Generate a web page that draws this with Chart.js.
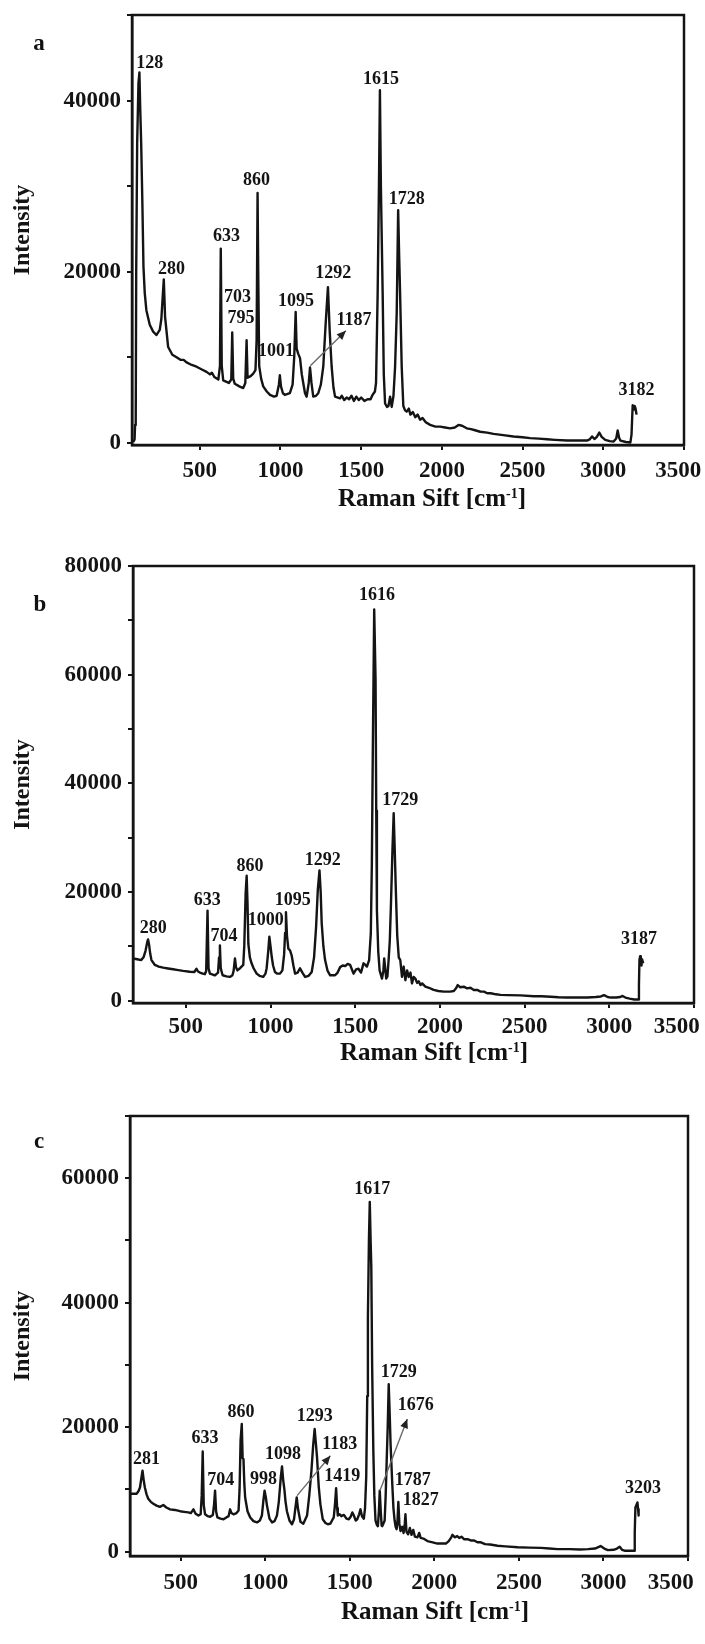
<!DOCTYPE html>
<html><head><meta charset="utf-8">
<script src="https://cdn.jsdelivr.net/npm/chart.js@4.4.1/dist/chart.umd.min.js"></script>
<style>
html,body{margin:0;padding:0;background:#fff;}
body{width:705px;height:1644px;position:relative;overflow:hidden;font-family:"Liberation Serif","Times New Roman",serif;}
canvas{position:absolute;left:0;}
.lbl{position:absolute;font-weight:bold;color:#111;white-space:nowrap;transform:translate(-50%,-50%);line-height:1;}
.xt{font-size:25px;}
.xt sup{font-size:14px;vertical-align:0;position:relative;top:-0.55em;}
.pl{font-size:23px;}
</style></head><body>
<canvas id="ca" width="705" height="530" style="top:0px;width:705px;height:530px"></canvas>
<canvas id="cb" width="705" height="530" style="top:530px;width:705px;height:530px"></canvas>
<canvas id="cc" width="705" height="584" style="top:1060px;width:705px;height:584px"></canvas>
<div class="lbl pl" style="left:39px;top:42px">a</div>
<div class="lbl pl" style="left:40px;top:603px">b</div>
<div class="lbl pl" style="left:39px;top:1140px">c</div>
<div class="lbl xt" style="left:432px;top:497px">Raman Sift [cm<sup>-1</sup>]</div>
<div class="lbl xt" style="left:434px;top:1051px">Raman Sift [cm<sup>-1</sup>]</div>
<div class="lbl xt" style="left:435px;top:1610px">Raman Sift [cm<sup>-1</sup>]</div>
<script>
// ---------- Panel a ----------
const shiftA = [
 88,96,99,103,106,112,120,126,131,137,
 144,151,159,169,190,211,231,252,262,269,
 277,285,304,330,356,380,400,418,450,480,
 510,542,563,575,590,615,625,630,636,645,
 680,695,701,707,717,745,769,782,790,796,
 815,831,845,852,858,862,868,880,893,915,
 935,960,976,990,996,1003,1015,1027,1058,1075,
 1085,1094,1100,1110,1121,1132,1141,1152,1162,1175,
 1183,1192,1203,1220,1234,1250,1265,1280,1294,1305,
 1317,1328,1338,1369,1380,1395,1410,1425,1440,1455,
 1470,1485,1500,1520,1540,1558,1570,1585,1592,1602,
 1610,1616,1622,1633,1640,1648,1660,1669,1679,1689,
 1700,1710,1720,1729,1735,1741,1751,1761,1772,1782,
 1795,1805,1820,1835,1850,1865,1880,1900,1927,1960,
 1989,2020,2051,2080,2103,2125,2154,2180,2200,2237,
 2280,2320,2380,2444,2500,2547,2600,2651,2700,2775,
 2850,2899,2915,2930,2945,2960,2975,2990,3012,3040,
 3064,3080,3089,3098,3106,3140,3168,3175,3182,3190,
 3195,3200,3206];
const intensityA = [
 100,400,2100,2500,20000,35000,42000,43300,39000,34900,
 28300,20600,17500,15500,13800,13000,12600,13200,14500,16700,
 19100,14700,11200,10300,10000,9700,9700,9400,9100,8900,
 8600,8300,8000,8200,7700,7400,9000,22700,9000,7300,
 7000,7400,12900,7500,6900,6600,6400,7000,12000,7600,
 7800,8100,8500,12000,29200,20000,9000,7500,6600,6000,
 5600,5400,5500,6800,7900,6600,5800,5600,5800,6800,
 10000,15300,11000,10400,9900,8000,7000,5800,5400,7000,
 8800,7000,5400,5500,5800,6800,8900,14000,18200,13000,
 8900,6500,5400,5200,5500,5000,5300,5100,5500,4900,
 5400,5000,5300,4900,5100,5100,5600,6000,7000,17500,
 30000,41200,30000,17500,8000,4600,4200,4300,5400,4200,
 5500,8900,15100,27200,22000,17500,8900,4300,3800,3650,
 4000,3300,3600,3000,3300,2700,2900,2400,2100,1900,
 1900,1800,1700,1800,2100,2000,1700,1600,1500,1300,
 1200,1050,900,750,650,550,500,420,350,270,
 270,270,400,750,450,700,1200,700,350,200,
 150,500,1450,600,270,100,50,1000,4400,3900,
 4300,4000,3300];
const peakTextA = ['128','280','633','703','795','860','1001','1095','1187','1292','1615','1728','3182'];
const peakLabelXA = [190,324,666,734,755,852,972,1096,1455,1327,1623,1782,3205];
const peakLabelYA = [44350,20250,24130,17060,14530,30660,10720,16590,14340,19860,42440,28450,6100];
const arrowsA = [[1185,9000,1405,13100]];

// ---------- Panel b ----------
const shiftB = [
 188,205,220,237,250,262,272,277,283,290,
 297,317,340,366,395,425,455,484,523,550,
 563,572,583,600,612,620,628,634,642,660,
 672,690,696,701,706,717,740,760,775,782,
 790,796,804,820,839,845,853,859,864,869,
 878,888,900,918,935,957,970,977,986,993,
 1000,1007,1015,1026,1040,1056,1070,1080,1086,1091,
 1097,1105,1115,1125,1135,1145,1160,1174,1188,1204,
 1225,1243,1257,1269,1279,1289,1296,1302,1312,1322,
 1337,1352,1381,1396,1411,1426,1441,1455,1470,1480,
 1490,1505,1519,1534,1549,1560,1569,1582,1592,1598,
 1604,1612,1620,1624,1628,1636,1644,1658,1666,1671,
 1677,1683,1690,1697,1704,1711,1720,1727,1733,1740,
 1748,1757,1766,1776,1786,1796,1806,1816,1826,1835,
 1845,1855,1865,1875,1885,1895,1914,1935,1963,1990,
 2023,2060,2082,2095,2105,2120,2141,2160,2180,2200,
 2220,2240,2260,2279,2300,2330,2358,2400,2476,2555,
 2600,2654,2700,2752,2800,2871,2920,2950,2969,2990,
 3009,3040,3065,3078,3095,3120,3147,3170,3175,3178,
 3182,3186,3190,3194,3200];
const intensityB = [
 7800,7700,7600,7500,8000,9200,10800,11300,10300,8600,
 7500,6600,6300,6100,5950,5800,5650,5500,5350,5300,
 5900,5400,5200,5000,4900,5500,16600,6000,5000,4800,
 4700,5200,8000,10200,6000,4700,4500,4400,4700,5500,
 7800,6200,5600,6000,6600,10200,19800,23000,18000,10500,
 8000,6900,6000,5000,4600,4400,5000,6000,9000,11800,
 10000,8100,6500,5300,5000,5000,5600,8500,12500,16300,
 12000,9600,9300,8300,6500,5000,5200,6000,5200,4400,
 4600,5300,8000,13600,20400,24000,20000,14300,10000,7500,
 5500,4700,4700,5200,6200,6500,6400,6800,6600,5800,
 5000,5800,5900,5200,6900,6600,6300,7500,12400,25000,
 46800,72000,59100,35000,16700,9000,5600,4100,5500,7800,
 6000,4100,4500,7500,11000,17900,28000,34500,28000,20000,
 12000,8000,7500,4400,6300,3800,5600,4400,5200,3200,
 4400,4100,3300,3600,2900,3200,2600,2400,2000,1800,
 1700,1700,1800,2300,2900,2500,2600,2300,2400,2000,
 2000,1700,1700,1400,1400,1200,1100,1050,1000,850,
 850,750,650,600,600,600,700,800,1050,700,
 600,600,700,900,600,400,250,250,3000,7500,
 8200,8100,6500,7600,6900];
const peakTextB = ['280','633','704','860','1000','1095','1292','1616','1729','3187'];
const peakLabelXB = [307,626,725,878,971,1131,1308,1628,1766,3176];
const peakLabelYB = [13330,18430,11790,24820,14740,18550,25800,74580,36860,11300];
const arrowsB = [];

// ---------- Panel c ----------
const shiftC = [
 200,220,239,250,259,267,274,281,288,298,
 308,323,338,357,377,397,415,437,465,496,
 520,545,560,575,588,605,618,624,630,636,
 644,660,674,690,697,703,709,717,735,753,
 770,783,792,800,812,830,842,848,854,861,
 866,871,876,881,895,911,930,951,968,980,
 990,996,1003,1010,1025,1040,1055,1069,1080,1092,
 1099,1106,1113,1120,1128,1143,1158,1170,1178,1186,
 1194,1208,1225,1247,1260,1273,1283,1292,1299,1306,
 1316,1326,1340,1356,1370,1385,1395,1405,1412,1419,
 1425,1429,1440,1450,1465,1480,1494,1505,1515,1524,
 1535,1544,1555,1563,1572,1583,1590,1597,1603,1607,
 1613,1618,1623,1627,1632,1639,1645,1652,1660,1666,
 1672,1677,1683,1688,1692,1700,1706,1712,1718,1724,
 1730,1736,1741,1751,1758,1765,1771,1777,1782,1787,
 1793,1800,1810,1818,1825,1829,1835,1845,1855,1865,
 1875,1885,1900,1910,1919,1935,1959,1990,2018,2050,
 2068,2085,2100,2107,2120,2135,2147,2160,2175,2196,
 2215,2235,2255,2275,2300,2330,2374,2420,2493,2560,
 2631,2680,2730,2800,2860,2908,2950,2983,3005,3026,
 3060,3080,3096,3110,3125,3160,3181,3185,3189,3195,
 3201,3205,3208];
const intensityC = [
 9300,9300,9300,9700,10300,11800,13000,11500,10300,9200,
 8500,8000,7700,7400,7200,7500,7100,6800,6700,6500,
 6400,6300,6200,6800,6100,5800,6000,9000,16100,7500,
 6000,5700,5600,5900,7500,9800,6500,5500,5300,5200,
 5500,5700,6800,6200,6000,6200,6600,10000,17900,20500,
 15000,14900,11000,8700,6500,5500,4900,4700,5000,5800,
 8500,9800,8800,7400,5300,4700,4900,5800,8000,12000,
 13700,11500,10000,8000,6500,5000,4400,5200,7000,8700,
 6800,4800,4500,5800,9000,13000,17000,19700,17500,15200,
 10500,7600,5200,4600,4400,4500,5000,5500,7500,10200,
 7000,5800,6000,5700,5900,5300,5200,5600,6300,5800,
 5000,5200,6000,6800,5700,5300,7000,12000,25000,37800,
 50000,56200,50000,45800,30000,16300,9000,5000,4300,4100,
 6500,9800,6500,4200,4100,4600,5000,9000,14600,20000,
 26900,22000,17300,10900,7000,5000,4000,3600,5000,8000,
 4500,3300,4000,3000,4500,6000,3200,2800,3800,2700,
 3500,2400,2300,3000,2200,2100,1700,1500,1300,1300,
 1300,1700,2300,2700,2300,2500,2200,2400,2000,2000,
 1800,1800,1500,1500,1200,1150,950,850,700,650,
 600,500,400,400,350,400,500,900,500,250,
 300,500,800,300,150,150,150,3000,7100,7500,
 7900,6800,5800];
const peakTextC = ['281','633','704','860','998','1098','1293','1183','1419','1617','1729','1676','1787','1827','3203'];
const peakLabelXC = [298,644,737,856,990,1105,1293,1441,1455,1633,1789,1890,1872,1919,3234];
const peakLabelYC = [14900,18130,11410,22430,11680,15710,21730,17220,12060,58180,28880,23510,11410,8290,10180];
const arrowsC = [[1188,9000,1385,15400],[1678,9800,1840,21300]];

// ---------- axes ----------
const xTickValues = [500,1000,1500,2000,2500,3000,3500];
const yTicksA = [0,10000,20000,30000,40000,50000];
const yTicksB = [0,10000,20000,30000,40000,50000,60000,70000,80000];
const yTicksC = [0,10000,20000,30000,40000,50000,60000,70000];

const FONT = '"Liberation Serif","Times New Roman",serif';
const INK = '#141414';

const framePlugin = {
  id: 'frame',
  afterDraw(chart) {
    const {ctx, chartArea: a} = chart;
    ctx.save();
    ctx.strokeStyle = INK; ctx.lineWidth = 2.5;
    ctx.strokeRect(a.left, a.top, a.right - a.left, a.bottom - a.top);
    ctx.restore();
  }
};

function annotPlugin(texts, lx, ly, arrows) {
  return {
    id: 'annot',
    afterDatasetsDraw(chart) {
      const {ctx} = chart; const xs = chart.scales.x, ys = chart.scales.y;
      ctx.save();
      arrows.forEach(a => {
        const x0 = xs.getPixelForValue(a[0]), y0 = ys.getPixelForValue(a[1]);
        const x1 = xs.getPixelForValue(a[2]), y1 = ys.getPixelForValue(a[3]);
        ctx.strokeStyle = '#6a6a6a'; ctx.lineWidth = 1.4;
        ctx.beginPath(); ctx.moveTo(x0, y0); ctx.lineTo(x1, y1); ctx.stroke();
        const ang = Math.atan2(y1 - y0, x1 - x0), L = 9, W = 4;
        ctx.fillStyle = '#222';
        ctx.beginPath();
        ctx.moveTo(x1, y1);
        ctx.lineTo(x1 - L*Math.cos(ang) + W*Math.sin(ang), y1 - L*Math.sin(ang) - W*Math.cos(ang));
        ctx.lineTo(x1 - L*Math.cos(ang) - W*Math.sin(ang), y1 - L*Math.sin(ang) + W*Math.cos(ang));
        ctx.closePath(); ctx.fill();
      });
      ctx.font = 'bold 18px ' + FONT;
      ctx.fillStyle = INK; ctx.textAlign = 'center'; ctx.textBaseline = 'middle';
      texts.forEach((t, i) => ctx.fillText(t, xs.getPixelForValue(lx[i]), ys.getPixelForValue(ly[i])));
      ctx.restore();
    }
  };
}

function makeChart(id, c) {
  const pts = c.xs.map((v, i) => ({x: v, y: c.ys[i]}));
  const gridOpts = {display: true, drawOnChartArea: false, drawTicks: true, tickLength: 5, color: INK, lineWidth: 2};
  const borderOpts = {display: true, color: INK, width: 2.5};
  return new Chart(document.getElementById(id), {
    type: 'line',
    data: {datasets: [{data: pts, borderColor: INK, borderWidth: 2.4, pointRadius: 0, tension: 0, fill: false, borderJoinStyle: 'round'}]},
    options: {
      responsive: false, animation: false, devicePixelRatio: 1,
      layout: {padding: {top: c.padTop, right: c.padRight, left: 0, bottom: 0}},
      plugins: {legend: {display: false}, tooltip: {enabled: false}},
      scales: {
        x: {
          type: 'linear', min: c.xmin, max: 3500,
          afterBuildTicks: s => { s.ticks = xTickValues.map(v => ({value: v})); },
          afterFit: s => { s.height = c.xH; s.paddingLeft = 0; s.paddingRight = 0; },
          ticks: {font: {family: FONT, size: 23, weight: 'bold'}, color: INK, padding: c.xPad, maxRotation: 0, autoSkip: false,
                  callback: v => v === 3500 ? '3500' + c.endPad : String(v)},
          grid: gridOpts, border: borderOpts
        },
        y: {
          type: 'linear', min: c.ymin, max: c.ymax,
          afterBuildTicks: s => { s.ticks = c.yTicks.map(v => ({value: v})); },
          afterFit: s => { s.width = c.yW; s.paddingTop = 0; s.paddingBottom = 0; },
          ticks: {font: {family: FONT, size: 23, weight: 'bold'}, color: INK, padding: 6, autoSkip: false,
                  callback: v => (v % 20000 === 0 ? String(v) : '')},
          title: {display: true, text: 'Intensity', font: {family: FONT, size: 24, weight: 'bold'}, color: INK, padding: {top: 8, bottom: 0}},
          grid: gridOpts, border: borderOpts
        }
      }
    },
    plugins: [framePlugin, annotPlugin(c.texts, c.lx, c.ly, c.arrows)]
  });
}

makeChart('ca', {xs: shiftA, ys: intensityA, xmin: 80, ymin: -250, ymax: 50000, yTicks: yTicksA,
  padTop: 15, padRight: 21, xH: 85, yW: 132, endPad: '\u2007', xPad: 7,
  texts: peakTextA, lx: peakLabelXA, ly: peakLabelYA, arrows: arrowsA});
makeChart('cb', {xs: shiftB, ys: intensityB, xmin: 188, ymin: -400, ymax: 80000, yTicks: yTicksB,
  padTop: 36, padRight: 11, xH: 57, yW: 133, endPad: '\u2007\u2007\u2007', xPad: 5,
  texts: peakTextB, lx: peakLabelXB, ly: peakLabelYB, arrows: arrowsB});
makeChart('cc', {xs: shiftC, ys: intensityC, xmin: 200, ymin: -700, ymax: 70000, yTicks: yTicksC,
  padTop: 56, padRight: 17, xH: 88, yW: 130, endPad: '\u2007\u2007\u2007', xPad: 8,
  texts: peakTextC, lx: peakLabelXC, ly: peakLabelYC, arrows: arrowsC});
</script>
</body></html>
